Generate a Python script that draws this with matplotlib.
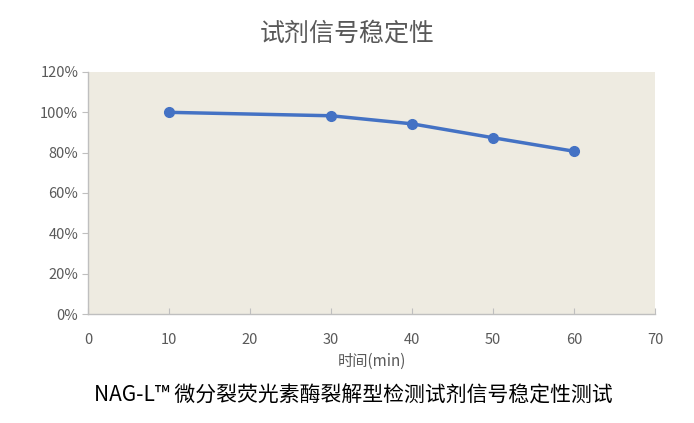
import matplotlib.pyplot as plt
from matplotlib.ticker import FuncFormatter

plt.rcParams['font.family'] = ['Noto Sans CJK SC', 'DejaVu Sans']

minutes = [10, 30, 40, 50, 60]
signal = [100.0, 98.3, 94.3, 87.4, 80.7]

x_ticks = [0, 10, 20, 30, 40, 50, 60, 70]
y_ticks = [0, 20, 40, 60, 80, 100, 120]

title = "试剂信号稳定性"
x_label = "时间(min)"
caption = "NAG-L™ 微分裂荧光素酶裂解型检测试剂信号稳定性测试"

grey = "#595959"
axis_grey = "#BFBFBF"

fig = plt.figure(figsize=(6.94, 4.23), dpi=100)
ax = fig.add_axes([88 / 694, 1 - 314 / 423, (655 - 88) / 694, (314 - 72) / 423])
ax.set_facecolor("#EEEBE1")

ax.plot(minutes, signal, color="#4472C4", linewidth=2.5, marker="o",
        markersize=7, zorder=3)

ax.set_xlim(0, 70)
ax.set_ylim(0, 120)
ax.set_xticks(x_ticks)
ax.set_yticks(y_ticks)
ax.yaxis.set_major_formatter(FuncFormatter(lambda v, p: f"{v:.0f}%"))

for side in ["top", "right"]:
    ax.spines[side].set_visible(False)
for side in ["left", "bottom"]:
    ax.spines[side].set_color(axis_grey)
    ax.spines[side].set_linewidth(1)

ax.tick_params(axis="x", direction="in", length=4, color=axis_grey,
               labelcolor=grey, labelsize=10.5, pad=14)
ax.tick_params(axis="y", direction="out", length=4, color=axis_grey,
               labelcolor=grey, labelsize=10.5, pad=3)

ax.set_xlabel(x_label, color=grey, fontsize=11, labelpad=4)
fig.text(0.5, 1 - 34 / 423, title, ha="center", va="center",
         color=grey, fontsize=18)
fig.text(353 / 694, 1 - 396 / 423, caption, ha="center", va="center",
         color="#000000", fontsize=15)

fig.savefig("out.png", dpi=100)
